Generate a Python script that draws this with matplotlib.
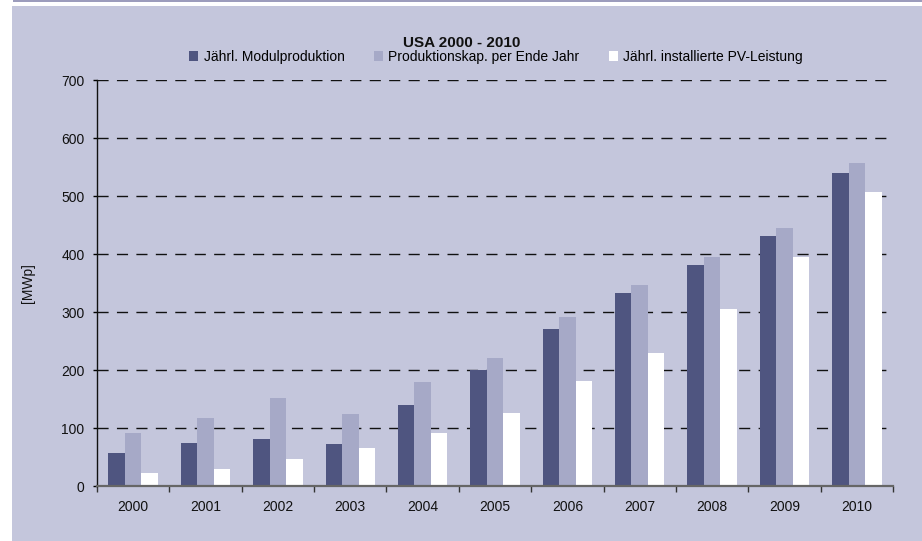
import matplotlib
matplotlib.use("Agg")
import matplotlib.pyplot as plt
import numpy as np
from matplotlib.patches import Rectangle, Patch

plt.rcParams['font.family'] = ['Liberation Sans', 'DejaVu Sans']

years = ['2000', '2001', '2002', '2003', '2004', '2005', '2006', '2007', '2008', '2009', '2010']
modulproduktion = [57, 74, 81, 73, 140, 200, 271, 332, 381, 431, 540]
produktionskap = [91, 118, 151, 125, 179, 221, 292, 347, 395, 445, 557]
installiert = [22, 29, 46, 66, 92, 126, 181, 230, 305, 395, 507]
series_names = ['Jährl. Modulproduktion', 'Produktionskap. per Ende Jahr', 'Jährl. installierte PV-Leistung']
yticks = [0, 100, 200, 300, 400, 500, 600, 700]

c_dark = '#4f5580'
c_light = '#a6a9c7'
c_white = '#ffffff'
bg = '#c4c6dc'

W, H = 922, 541
fig = plt.figure(figsize=(W / 100, H / 100), dpi=100, facecolor='white')
fig.patches.append(Rectangle((12 / W, 0), 1 - 12 / W, (H - 6) / H, transform=fig.transFigure,
                             facecolor=bg, edgecolor='none', zorder=-10))
fig.patches.append(Rectangle((13 / W, (H - 2) / H), 1 - 13 / W, 2 / H, transform=fig.transFigure,
                             facecolor='#9c9cbc', edgecolor='none', zorder=-10))

ax = fig.add_axes([97 / W, 1 - 486 / H, (893 - 97) / W, (486 - 80) / H])
ax.set_facecolor('none')
ax.set_zorder(5)

x = np.arange(len(years))
bw = 0.228
ax.bar(x - bw, modulproduktion, bw, color=c_dark, zorder=3)
ax.bar(x, produktionskap, bw, color=c_light, zorder=3)
ax.bar(x + bw, installiert, bw, color=c_white, zorder=3)

ax.set_xlim(-0.5, len(years) - 0.5)
ax.set_ylim(0, 700)
ax.set_yticks(yticks)
ax.set_yticklabels([str(v) for v in yticks], fontsize=10, color='#111111')
ax.set_xticks(x)
ax.set_xticklabels(years, fontsize=10, color='#111111')
ax.set_xticks(np.arange(-0.5, len(years), 1), minor=True)
ax.tick_params(axis='x', which='major', length=0, pad=10)
ax.tick_params(axis='x', which='minor', length=4, width=1, direction='out', color='#333333')
ax.tick_params(axis='y', length=3, width=1, direction='out', pad=6)

for v in yticks[1:]:
    ax.axhline(v, color='#111111', lw=1.0, ls=(0, (8, 6)), zorder=1)

for s in ['top', 'right']:
    ax.spines[s].set_visible(False)
ax.spines['left'].set_color('#111111')
ax.spines['left'].set_linewidth(1)
ax.spines['bottom'].set_color('#666666')
ax.spines['bottom'].set_linewidth(1.6)
ax.spines['bottom'].set_zorder(4)

ax.set_ylabel('[MWp]', fontsize=10, color='#111111')
ax.yaxis.set_label_coords((35 - 97) / (893 - 97), 0.5)

fig.text(462 / W, 1 - 43 / H, 'USA 2000 - 2010', ha='center', va='center',
         fontsize=11, fontweight='bold', color='#111111')

handles = [Patch(facecolor=c, edgecolor='none') for c in (c_dark, c_light, c_white)]
fig.legend(handles, series_names, loc='center', bbox_to_anchor=(496 / W, 1 - 57 / H),
           ncol=3, frameon=False, fontsize=10, handlelength=0.65, handleheight=0.65,
           handletextpad=0.4, columnspacing=2.1, borderpad=0)

fig.savefig('out.png', dpi=100, facecolor='white')
